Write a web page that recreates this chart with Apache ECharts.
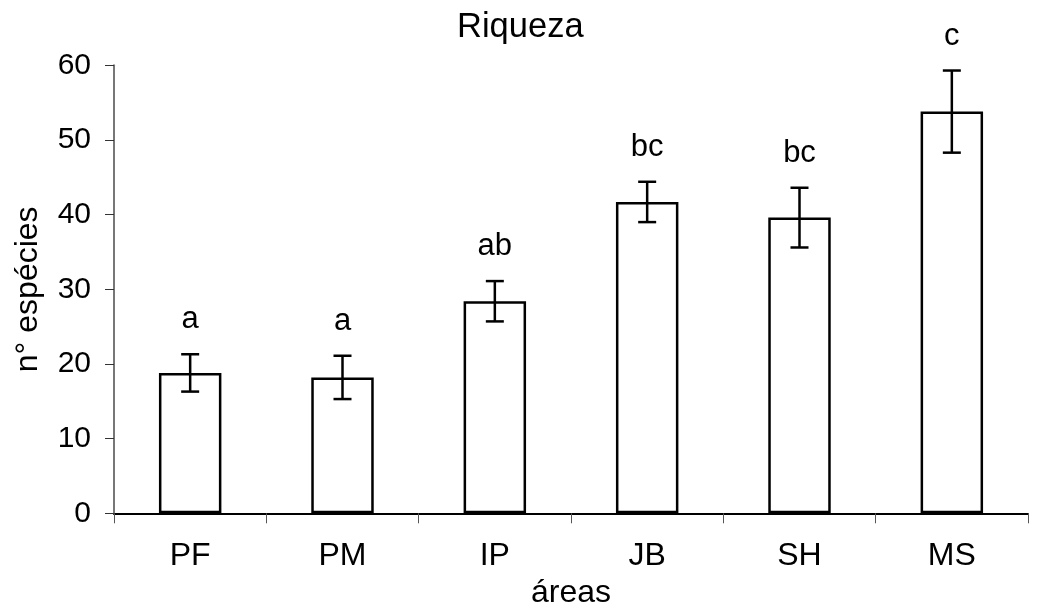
<!DOCTYPE html>
<html>
<head>
<meta charset="utf-8">
<script src="https://cdn.jsdelivr.net/npm/echarts@6/dist/echarts.min.js"></script>
<style>
html,body{margin:0;padding:0;background:#fff;}
#chart{width:1048px;height:612px;}
</style>
</head>
<body>
<div id="chart"></div>
<script>
const categories = ['PF', 'PM', 'IP', 'JB', 'SH', 'MS'];
const values = [18.8, 18.2, 28.4, 41.7, 39.6, 53.8];
const errors = [2.5, 2.9, 2.7, 2.7, 4.0, 5.5];
const letters = ['a', 'a', 'ab', 'bc', 'bc', 'c'];
const yTicks = [0, 10, 20, 30, 40, 50, 60];

const FONT = '"Liberation Sans", Arial, sans-serif';
const chart = echarts.init(document.getElementById('chart'), null, {renderer: 'canvas'});

const errData = categories.map((c, i) => [i, values[i], errors[i]]);

chart.setOption({
  animation: false,
  backgroundColor: '#fff',
  title: {
    text: 'Riqueza',
    left: 452,
    top: 5,
    textStyle: {fontFamily: FONT, fontSize: 34.5, fontWeight: 'normal', color: '#000'}
  },
  grid: {left: 114, right: 20, top: 65.3, bottom: 98.7, containLabel: false, outerBoundsMode: 'none'},
  xAxis: {
    type: 'category',
    data: categories,
    name: 'áreas',
    nameLocation: 'middle',
    nameGap: 62,
    nameTextStyle: {fontFamily: FONT, fontSize: 32, color: '#000'},
    axisLine: {lineStyle: {color: '#000', width: 2}},
    axisTick: {show: true, length: 10, lineStyle: {color: '#555', width: 1}},
    axisLabel: {fontFamily: FONT, fontSize: 32, color: '#000', margin: 27}
  },
  yAxis: {
    type: 'value',
    min: yTicks[0],
    max: yTicks[yTicks.length - 1],
    interval: 10,
    name: 'n° espécies',
    nameLocation: 'middle',
    nameGap: 70,
    nameRotate: 90,
    nameTextStyle: {fontFamily: FONT, fontSize: 32, color: '#000'},
    axisLine: {show: true, lineStyle: {color: '#777', width: 2}},
    axisTick: {show: true, length: 9, lineStyle: {color: '#333', width: 1}},
    axisLabel: {fontFamily: FONT, fontSize: 30, color: '#000', margin: 23},
    splitLine: {show: false}
  },
  series: [
    {
      type: 'bar',
      data: values,
      barWidth: '41%',
      itemStyle: {color: '#fff', borderColor: '#000', borderWidth: 2.5},
      z: 2
    },
    {
      type: 'custom',
      data: errData,
      z: 5,
      renderItem: function (params, api) {
        const i = api.value(0);
        const v = api.value(1);
        const e = api.value(2);
        const top = api.coord([i, v + e]);
        const bot = api.coord([i, v - e]);
        const x = top[0];
        const half = 9;
        const ls = {stroke: '#000', lineWidth: 2.5};
        return {
          type: 'group',
          children: [
            {type: 'line', shape: {x1: x, y1: top[1], x2: x, y2: bot[1]}, style: ls},
            {type: 'line', shape: {x1: x - half, y1: top[1], x2: x + half, y2: top[1]}, style: ls},
            {type: 'line', shape: {x1: x - half, y1: bot[1], x2: x + half, y2: bot[1]}, style: ls},
            {type: 'text', style: {
              text: letters[params.dataIndex],
              x: x, y: top[1] - 19,
              align: 'center', verticalAlign: 'bottom',
              fontFamily: FONT, fontSize: 31, fill: '#000'
            }}
          ]
        };
      }
    }
  ]
});
</script>
</body>
</html>
